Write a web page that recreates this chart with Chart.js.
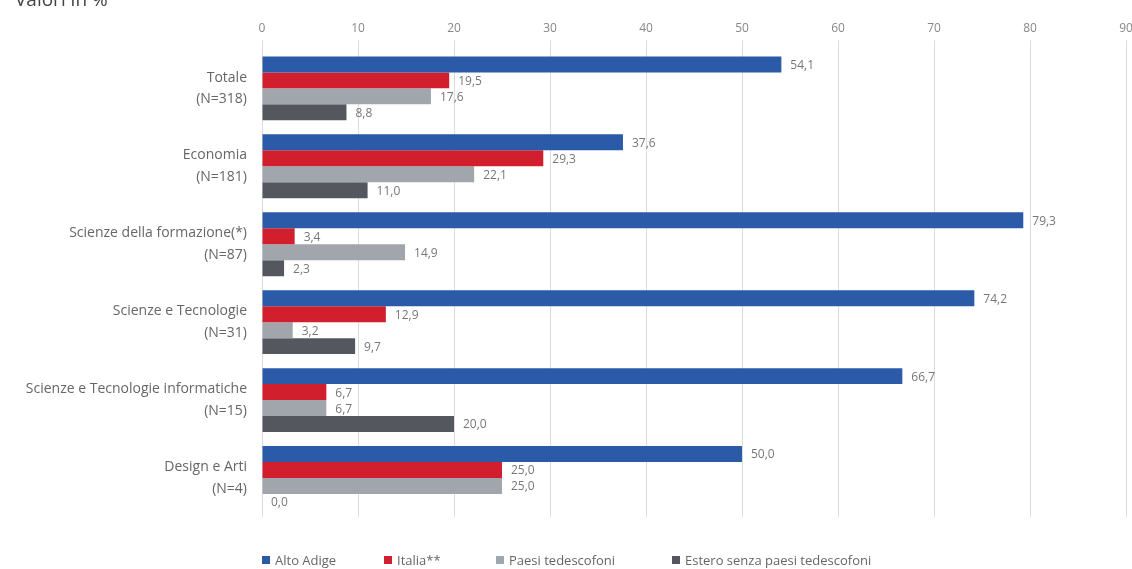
<!DOCTYPE html>
<html>
<head>
<meta charset="utf-8">
<script src="https://cdn.jsdelivr.net/npm/chart.js@4"></script>
<style>
  html, body { margin: 0; padding: 0; background: #fff; overflow: hidden; width: 1132px; height: 569px; }
  #wrap { position: relative; width: 1140px; height: 569px; }
  #title { position: absolute; left: 15px; top: -14px; font: 19px "Open Sans", sans-serif; color: #444; white-space: nowrap; }
  #legend { position: absolute; top: 551px; left: 0; height: 18px; font: 13px "Open Sans", sans-serif; color: #666; }
  .item { position: absolute; top: 0; white-space: nowrap; display: flex; align-items: center; }
  .box { width: 8px; height: 8px; margin-right: 5px; display: inline-block; }
</style>
</head>
<body>
<div id="wrap">
  <canvas id="c" width="1140" height="569"></canvas>
  <div id="title">Valori in %</div>
  <div id="legend"></div>
</div>
<script>
const categories = [
  ["Totale", "(N=318)"],
  ["Economia", "(N=181)"],
  ["Scienze della formazione(*)", "(N=87)"],
  ["Scienze e Tecnologie", "(N=31)"],
  ["Scienze e Tecnologie informatiche", "(N=15)"],
  ["Design e Arti", "(N=4)"]
];
const seriesNames = ["Alto Adige", "Italia**", "Paesi tedescofoni", "Estero senza paesi tedescofoni"];
const altoAdige = [54.1, 37.6, 79.3, 74.2, 66.7, 50.0];
const italia = [19.5, 29.3, 3.4, 12.9, 6.7, 25.0];
const paesiTedescofoni = [17.6, 22.1, 14.9, 3.2, 6.7, 25.0];
const esteroSenza = [8.8, 11.0, 2.3, 9.7, 20.0, 0.0];
const xTicks = [0, 10, 20, 30, 40, 50, 60, 70, 80, 90];
const colors = ["#2b5aa8", "#d21f2d", "#a1a6ac", "#54585e"];

const seriesValues = [altoAdige, italia, paesiTedescofoni, esteroSenza];

const fmt = v => v.toFixed(1).replace(".", ",");

const labelPlugin = {
  id: "valueLabels",
  afterDatasetsDraw(chart) {
    const ctx = chart.ctx;
    ctx.save();
    ctx.font = '12px "Open Sans", sans-serif';
    ctx.fillStyle = "#777";
    ctx.textAlign = "left";
    ctx.textBaseline = "middle";
    chart.data.datasets.forEach((ds, i) => {
      const meta = chart.getDatasetMeta(i);
      meta.data.forEach((bar, j) => {
        ctx.fillText(fmt(ds.data[j]), bar.x + 9, bar.y + 1);
      });
    });
    ctx.restore();
  }
};

new Chart(document.getElementById("c"), {
  type: "bar",
  data: {
    labels: categories,
    datasets: seriesNames.map((n, i) => ({
      label: n,
      data: seriesValues[i],
      backgroundColor: colors[i],
      borderWidth: 0,
      categoryPercentage: 0.82,
      barPercentage: 1.0
    }))
  },
  options: {
    indexAxis: "y",
    responsive: false,
    animation: false,
    layout: { padding: { top: 16, right: 14, bottom: 52, left: 0 } },
    plugins: {
      legend: { display: false },
      tooltip: { enabled: false }
    },
    scales: {
      x: {
        position: "top",
        min: 0,
        max: 90,
        afterBuildTicks: s => { s.ticks = xTicks.map(v => ({ value: v })); },
        ticks: {
          color: "#888",
          font: { family: "Open Sans", size: 12 },
          padding: 5,
          maxRotation: 0
        },
        grid: { color: "#dcdcdc", tickLength: 9, drawTicks: true },
        border: { display: false }
      },
      y: {
        afterFit: s => { s.width = 262; },
        ticks: {
          color: "#666",
          font: { family: "Open Sans", size: 14, lineHeight: 1.55 },
          padding: 7
        },
        grid: { display: false },
        border: { display: false }
      }
    }
  },
  plugins: [labelPlugin]
});

const legendX = [262, 384, 496, 672];
const legend = document.getElementById("legend");
seriesNames.forEach((n, i) => {
  const it = document.createElement("div");
  it.className = "item";
  it.style.left = legendX[i] + "px";
  const b = document.createElement("span");
  b.className = "box";
  b.style.background = colors[i];
  it.appendChild(b);
  it.appendChild(document.createTextNode(n));
  legend.appendChild(it);
});
</script>
</body>
</html>
